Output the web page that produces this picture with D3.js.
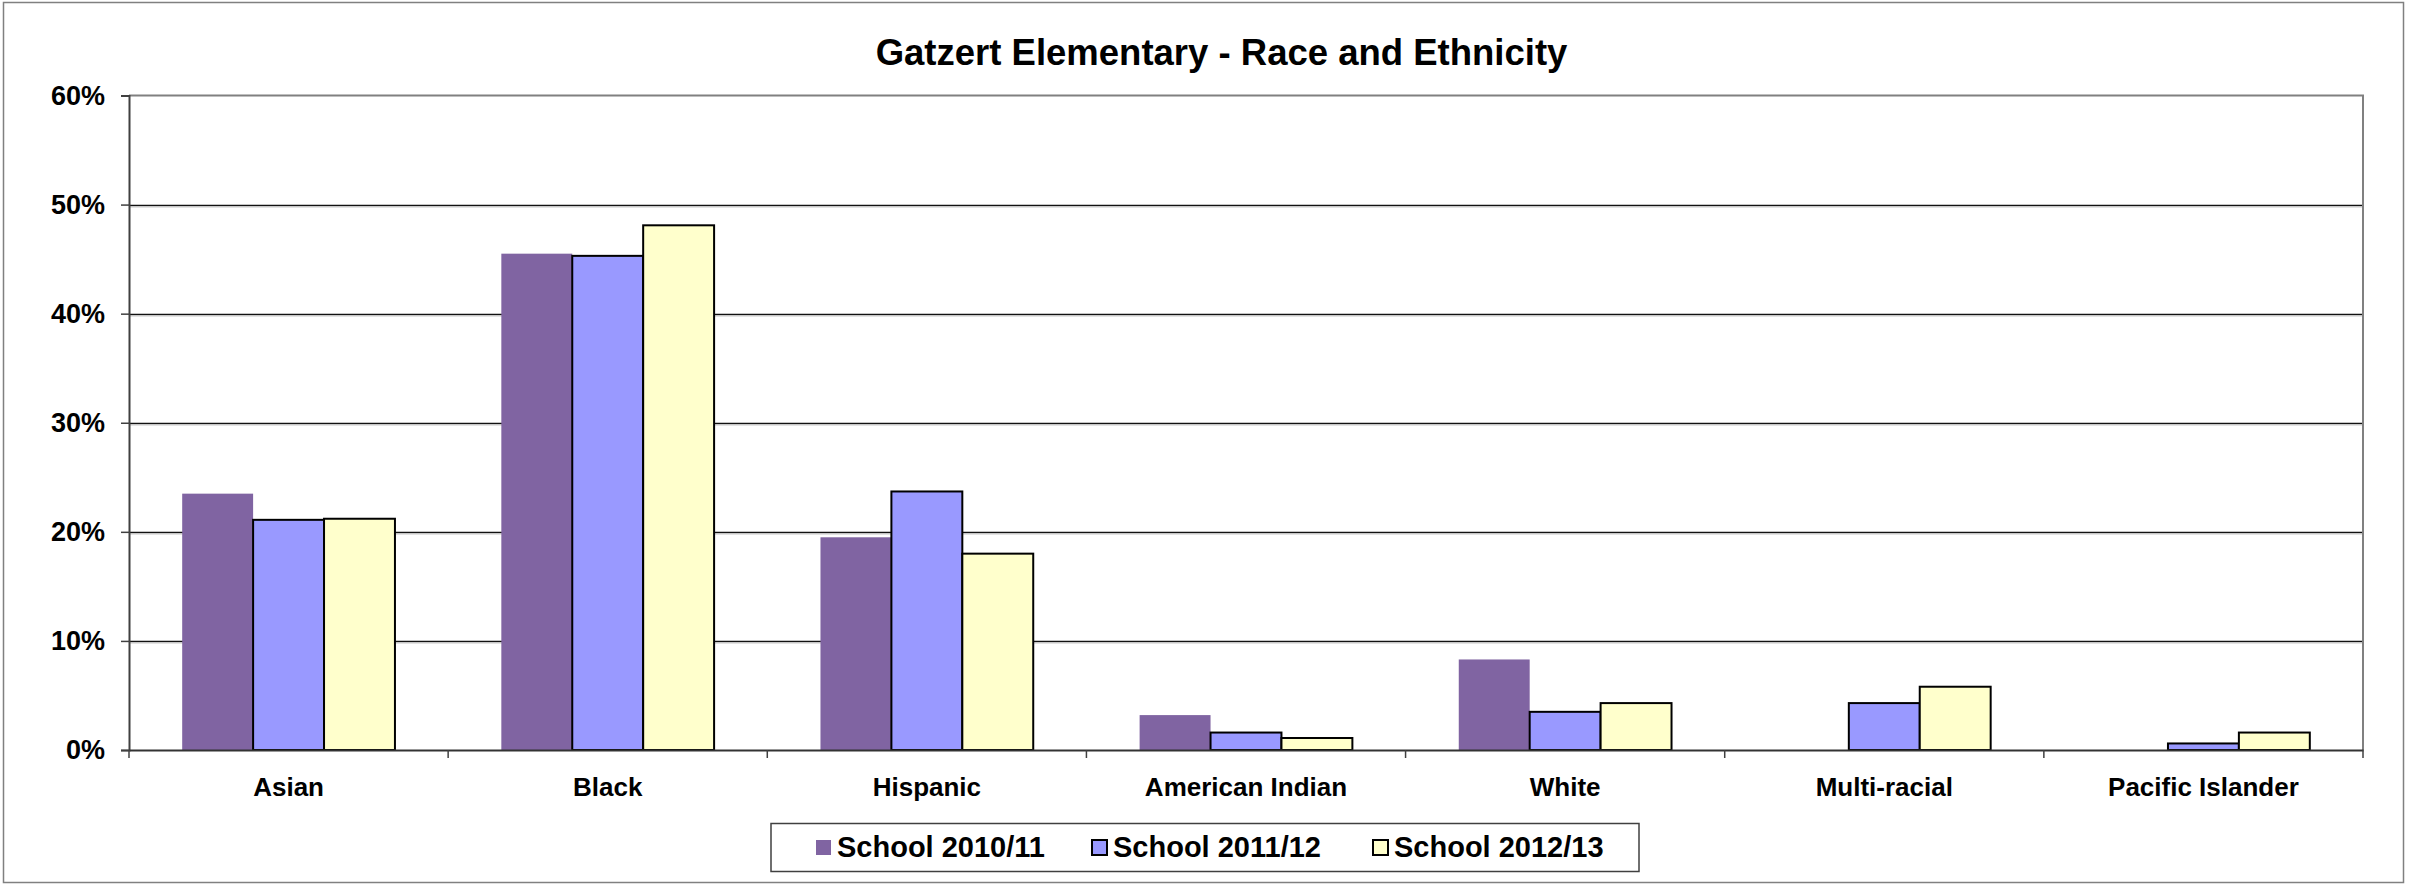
<!DOCTYPE html>
<html>
<head>
<meta charset="utf-8">
<script src="https://cdn.jsdelivr.net/npm/d3@7"></script>
<style>
html,body{margin:0;padding:0;background:#fff;}
svg{display:block;font-family:"Liberation Sans",Arial,Helvetica,sans-serif;font-weight:bold;}
</style>
</head>
<body>
<svg id="chart" width="2414" height="886"></svg>
<script>
const categories = ["Asian","Black","Hispanic","American Indian","White","Multi-racial","Pacific Islander"];
const seriesNames = ["School 2010/11","School 2011/12","School 2012/13"];
const school2010 = [23.5, 45.5, 19.5, 3.2, 8.3, 0, 0];
const school2011 = [21.1, 45.3, 23.7, 1.6, 3.5, 4.3, 0.6];
const school2012 = [21.2, 48.1, 18.0, 1.1, 4.3, 5.8, 1.6];
const yTicks = [0,10,20,30,40,50,60];
const titleText = "Gatzert Elementary - Race and Ethnicity";

const colors = ["#8064A2","#9999FF","#FFFFCC"];
const strokes = ["none","#000","#000"];
const series = [school2010, school2011, school2012];

const svg = d3.select("#chart");
const W = 2414, H = 886;
const m = {left:129, right:W-2363, top:95.5, bottom:H-750};
const pw = W - m.left - m.right, ph = H - m.top - m.bottom;

// outer border
svg.append("rect").attr("x",3.5).attr("y",2.5).attr("width",2400).attr("height",880)
  .attr("fill","#fff").attr("stroke","#808080").attr("stroke-width",1.5);

const x0 = d3.scaleBand().domain(categories).range([m.left, m.left+pw]).paddingInner(0).paddingOuter(0);
const gapFrac = 1.5/4.5;
const x1 = d3.scaleBand().domain(d3.range(3)).range([0, x0.bandwidth()*(1-gapFrac)]);
const y = d3.scaleLinear().domain([0,60]).range([m.top+ph, m.top]);

// gridlines
const grid = svg.append("g");
grid.selectAll("line.g").data(yTicks.filter(t=>t>0 && t<60)).join("line")
  .attr("x1",m.left).attr("x2",m.left+pw)
  .attr("y1",d=>Math.round(y(d))+0.5).attr("y2",d=>Math.round(y(d))+0.5)
  .attr("stroke","#111").attr("stroke-width",1.4);
grid.selectAll("line.s").data(yTicks.filter(t=>t>0 && t<60)).join("line")
  .attr("x1",m.left).attr("x2",m.left+pw)
  .attr("y1",d=>Math.round(y(d))+2).attr("y2",d=>Math.round(y(d))+2)
  .attr("stroke","#c8c8c8").attr("stroke-width",1);

// plot border top & right (gray)
svg.append("path")
  .attr("d",`M${m.left},${y(60)}H${m.left+pw}V${y(0)}`)
  .attr("fill","none").attr("stroke","#808080").attr("stroke-width",2);

// bars
const groups = svg.append("g").selectAll("g").data(categories).join("g")
  .attr("transform",d=>`translate(${x0(d)+x0.bandwidth()*gapFrac/2},0)`);
groups.selectAll("rect").data((d,i)=>series.map((s,k)=>({k, v:s[i]})).filter(o=>o.v>0)).join("rect")
  .attr("x",o=>x1(o.k)).attr("width",x1.bandwidth())
  .attr("y",o=>y(o.v)).attr("height",o=>y(0)-y(o.v))
  .attr("fill",o=>colors[o.k]).attr("stroke",o=>strokes[o.k]).attr("stroke-width",2);

// y axis
const yAxis = d3.axisLeft(y).tickValues(yTicks).tickFormat(d=>d+"%").tickSize(8).tickPadding(16);
const ya = svg.append("g").attr("transform",`translate(${m.left},0)`).call(yAxis);
ya.select(".domain").attr("stroke","#404040").attr("stroke-width",2);
ya.selectAll(".tick line").attr("stroke","#404040").attr("stroke-width",1.5);
ya.selectAll(".tick text").attr("font-size",27).attr("font-weight","bold").attr("fill","#000")
  .attr("font-family","'Liberation Sans',Arial,sans-serif");

// x axis
const xAxis = d3.axisBottom(x0).tickSize(0).tickPadding(30);
const xa = svg.append("g").attr("transform",`translate(0,${y(0)})`).call(xAxis);
xa.select(".domain").attr("stroke","#333").attr("stroke-width",2);
xa.selectAll(".tick text").attr("font-size",26).attr("font-weight","bold").attr("fill","#000")
  .attr("font-family","'Liberation Sans',Arial,sans-serif").attr("dy","0.6em");
// category boundary ticks
const bounds = categories.map(c=>x0(c)).concat([m.left+pw]);
svg.append("g").selectAll("line").data(bounds).join("line")
  .attr("x1",d=>d).attr("x2",d=>d).attr("y1",y(0)).attr("y2",y(0)+8)
  .attr("stroke","#404040").attr("stroke-width",1.5);

// title
svg.append("text").attr("x",1221.5).attr("y",65).attr("text-anchor","middle")
  .attr("font-size",36.5).attr("font-weight","bold").text(titleText);

// legend
const lg = svg.append("g");
lg.append("rect").attr("x",771).attr("y",823.5).attr("width",868).attr("height",48)
  .attr("fill","#fff").attr("stroke","#404040").attr("stroke-width",1.5);
const legX = [816, 1092, 1373];
const items = lg.selectAll("g.item").data(seriesNames).join("g")
  .attr("transform",(d,i)=>`translate(${legX[i]},840)`);
items.append("rect").attr("x",0).attr("y",0).attr("width",15).attr("height",15)
  .attr("fill",(d,i)=>colors[i]).attr("stroke",(d,i)=>strokes[i]).attr("stroke-width",2);
items.append("text").attr("x",21).attr("y",16.5).attr("font-size",29).attr("font-weight","bold").text(d=>d);
</script>
</body>
</html>
